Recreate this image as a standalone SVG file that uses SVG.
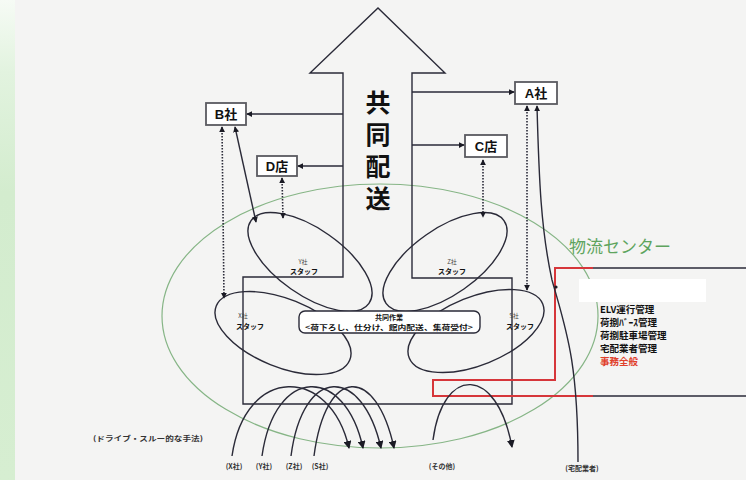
<svg xmlns="http://www.w3.org/2000/svg" width="746" height="480" viewBox="0 0 746 480">
<defs>
<linearGradient id="strip" x1="0" y1="0" x2="0" y2="1">
<stop offset="0" stop-color="#f6fbf5"/>
<stop offset="0.15" stop-color="#e2f3df"/>
<stop offset="0.4" stop-color="#d3ecce"/>
<stop offset="1" stop-color="#d6eed1"/>
</linearGradient>
<marker id="ah" viewBox="0 0 8 8" refX="7" refY="4" markerWidth="6" markerHeight="6" markerUnits="userSpaceOnUse" orient="auto-start-reverse">
<path d="M0,0 L8,4 L0,8 z" fill="#1a1a24"/>
</marker>
<marker id="ahb" viewBox="0 0 8 8" refX="7" refY="4" markerWidth="8" markerHeight="8" markerUnits="userSpaceOnUse" orient="auto-start-reverse">
<path d="M0,0 L8,4 L0,8 z" fill="#1a1a24"/>
</marker>
<style>
.ln{fill:none;stroke:#2a2a38;stroke-width:1.4}
.dot{fill:none;stroke:#2a2a38;stroke-width:1.6;stroke-dasharray:1.6 1.4}
.box rect{fill:#ffffff;stroke:#5a5a60;stroke-width:1.8}
.box text{font-family:"Liberation Sans","Noto Sans CJK JP",sans-serif;font-weight:bold;font-size:13px;fill:#111;text-anchor:middle}
.stk{fill:none;stroke:#2a2a38;stroke-width:1.4}
.sm{font-family:"Noto Sans CJK JP",sans-serif;font-size:6px;fill:#444;text-anchor:middle}
.smb{font-family:"Noto Sans CJK JP",sans-serif;font-size:7px;font-weight:bold;fill:#111;text-anchor:middle}
.lbl{font-family:"Noto Sans CJK JP",sans-serif;font-size:7px;font-weight:bold;fill:#333;text-anchor:middle}
.rt{font-family:"Noto Sans CJK JP",sans-serif;font-size:9.5px;font-weight:bold;fill:#111}
.rt.rd{fill:#e0402a}
.red{fill:none;stroke:#d6363a;stroke-width:2}
</style>
</defs>
<rect x="0" y="0" width="746" height="480" fill="#f4f4f3"/>
<rect x="0" y="0" width="15" height="480" fill="url(#strip)"/>

<!-- logistics center ellipse -->
<g id="center">
<ellipse cx="380" cy="316" rx="218" ry="132" fill="none" stroke="#86b586" stroke-width="1.2"/>
<text x="569" y="253" font-family="Noto Sans CJK JP,sans-serif" font-size="17" fill="#5ea45e">物流センター</text>
</g>

<!-- big arrow -->
<g id="arrow">
<path d="M343,277 L343,73 L310,73 L378,8 L445,73 L412,73 L412,278 L512,278 L512,404 L243,404 L243,277 Z" fill="none" stroke="#2a2a38" stroke-width="1.4"/>
<text x="378" y="90" writing-mode="vertical-rl" letter-spacing="7" font-family="Noto Sans CJK JP,sans-serif" font-size="25" font-weight="bold" fill="#111">共同配送</text>
</g>

<!-- red bracket and right panel -->
<g id="panel">
<polyline class="red" points="593,268 555,268 555,380 433,380 433,396 593,396"/>
<line x1="593" y1="268" x2="746" y2="268" stroke="#2a2a38" stroke-width="1.6"/>
<line x1="593" y1="396" x2="746" y2="396" stroke="#2a2a38" stroke-width="1.6"/>
<rect x="579" y="279" width="127" height="23" fill="#ffffff"/>
<text class="rt" x="600" y="313">ELV運行管理</text>
<text class="rt" x="600" y="326">荷捌ﾊﾞｰｽ管理</text>
<text class="rt" x="600" y="339">荷捌駐車場管理</text>
<text class="rt" x="600" y="352">宅配業者管理</text>
<text class="rt rd" x="600" y="365">事務全般</text>
</g>

<!-- stack ellipses -->
<g id="staff-y">
<ellipse cx="310" cy="262" rx="72" ry="33" transform="rotate(35 310 262)" class="stk"/>
<text class="sm" x="303" y="264">Y社</text>
<text class="smb" x="304" y="274">スタッフ</text>
</g>
<g id="staff-z">
<ellipse cx="445" cy="262" rx="72" ry="33" transform="rotate(-35 445 262)" class="stk"/>
<text class="sm" x="452" y="264">Z社</text>
<text class="smb" x="452" y="274">スタッフ</text>
</g>
<g id="staff-x">
<ellipse cx="283" cy="333" rx="72" ry="34" transform="rotate(22 283 333)" class="stk"/>
<text class="sm" x="243" y="318">X社</text>
<text class="smb" x="250" y="329">スタッフ</text>
</g>
<g id="staff-s">
<ellipse cx="476" cy="331" rx="72" ry="34" transform="rotate(-22 476 331)" class="stk"/>
<text class="sm" x="514" y="318">S社</text>
<text class="smb" x="520" y="329">スタッフ</text>
</g>

<!-- joint work box -->
<g id="joint">
<rect x="299" y="311" width="181" height="22" rx="6" fill="#ffffff" stroke="#2a2a38" stroke-width="1.4"/>
<text class="smb" x="389" y="319.5">共同作業</text>
<text class="smb" x="389" y="330" font-size="8" textLength="168" lengthAdjust="spacingAndGlyphs">&lt;荷下ろし、仕分け、館内配送、集荷受付&gt;</text>
</g>

<!-- nodes -->
<g id="b-sha" class="box"><rect x="206" y="103" width="40" height="22"/><text x="226" y="119">B社</text></g>
<g id="d-ten" class="box"><rect x="257" y="156" width="40" height="20"/><text x="277" y="171">D店</text></g>
<g id="a-sha" class="box"><rect x="515" y="82" width="42" height="22"/><text x="536" y="98">A社</text></g>
<g id="c-ten" class="box"><rect x="465" y="135" width="42" height="22"/><text x="486" y="151">C店</text></g>

<!-- connectors -->
<g id="connectors">
<line class="ln" x1="343" y1="114" x2="247" y2="114" marker-end="url(#ah)"/>
<line class="ln" x1="343" y1="166" x2="298" y2="166" marker-end="url(#ah)"/>
<line class="ln" x1="412" y1="92" x2="514" y2="92" marker-end="url(#ah)"/>
<line class="ln" x1="412" y1="145" x2="464" y2="145" marker-end="url(#ah)"/>
<line class="dot" x1="222" y1="127" x2="224" y2="298" marker-start="url(#ah)" marker-end="url(#ah)"/>
<line class="ln" x1="235" y1="127" x2="256" y2="222" marker-start="url(#ah)" marker-end="url(#ah)"/>
<line class="dot" x1="282" y1="178" x2="283" y2="218" marker-start="url(#ah)" marker-end="url(#ah)"/>
<line class="dot" x1="483" y1="160" x2="483" y2="217" marker-start="url(#ah)" marker-end="url(#ah)"/>
<line class="dot" x1="527" y1="106" x2="527" y2="290" marker-start="url(#ah)" marker-end="url(#ah)"/>
<path class="ln" d="M537,106 C539,180 541,230 552,280 C566,330 578,360 578,462" marker-start="url(#ah)"/>
<circle cx="556" cy="287" r="1.6" fill="#1a1a24"/>
<path class="ln" d="M232,456 C245,365 330,365 349,448" marker-end="url(#ahb)"/>
<path class="ln" d="M262,456 C275,365 345,365 363,448" marker-end="url(#ahb)"/>
<path class="ln" d="M291,456 C303,365 362,365 381,448" marker-end="url(#ahb)"/>
<path class="ln" d="M314,456 C326,365 376,365 394,448" marker-end="url(#ahb)"/>
<path class="ln" d="M433,440 C443,365 497,365 512,447" marker-end="url(#ahb)"/>
</g>

<!-- bottom labels -->
<g id="labels">
<text class="lbl" x="148" y="441" textLength="110" lengthAdjust="spacingAndGlyphs">(ドライブ・スルー的な手法)</text>
<text class="lbl" x="234" y="469">(X社)</text>
<text class="lbl" x="264" y="469">(Y社)</text>
<text class="lbl" x="294" y="469">(Z社)</text>
<text class="lbl" x="320" y="469">(S社)</text>
<text class="lbl" x="442" y="469">(その他)</text>
<text class="lbl" x="582" y="471">(宅配業者)</text>
</g>
</svg>
